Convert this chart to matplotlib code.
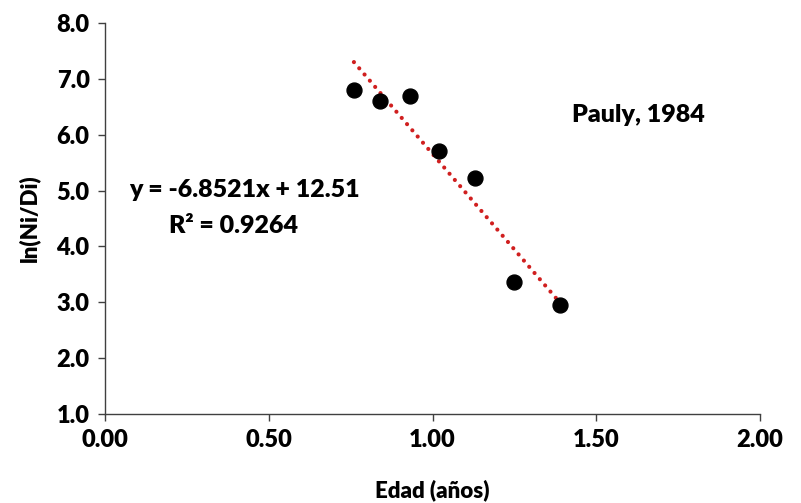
import numpy as np
import matplotlib
matplotlib.use("Agg")
import matplotlib.pyplot as plt

# data
edad = [0.76, 0.84, 0.93, 1.02, 1.13, 1.25, 1.39]
ln_ni_di = [6.80, 6.60, 6.69, 5.71, 5.22, 3.37, 2.95]
slope = -6.8521
intercept = 12.51
r2 = 0.9264

x_ticks = [0.0, 0.5, 1.0, 1.5, 2.0]
y_ticks = [1.0, 2.0, 3.0, 4.0, 5.0, 6.0, 7.0, 8.0]

plt.rcParams['font.family'] = ['Lato', 'DejaVu Sans']
fw = 'heavy'

fig = plt.figure(figsize=(8.01, 5.03), dpi=100)
ax = fig.add_axes([0.131, 0.177, 0.818, 0.777])

# trend line from first to last point
xt = np.array([min(edad), max(edad)])
ax.plot(xt, slope * xt + intercept, color='#d01f1f', lw=3, linestyle=(0, (0.01, 1.95)),
        dash_capstyle='round', zorder=2)
ax.scatter(edad, ln_ni_di, s=115, color='black', zorder=3)

ax.set_xlim(0, 2)
ax.set_ylim(1, 8)
ax.set_xticks(x_ticks)
ax.set_yticks(y_ticks)
ax.set_xticklabels([f"{v:.2f}" for v in x_ticks], fontsize=17, fontweight=fw)
ax.set_yticklabels([f"{v:.1f}" for v in y_ticks], fontsize=17, fontweight=fw)
ax.tick_params(direction='out', length=5, width=1, color='#404040', pad=6)

for side in ['top', 'right']:
    ax.spines[side].set_visible(False)
for side in ['left', 'bottom']:
    ax.spines[side].set_color('#404040')
    ax.spines[side].set_linewidth(1)

ax.set_xlabel('Edad (años)', fontsize=16, fontweight=fw, labelpad=20)
ax.set_ylabel('ln(Ni/Di)', fontsize=16, fontweight=fw, labelpad=12)

ax.text(0.427, 5.01, f"y = {slope:.4f}x + {intercept:.2f}",
        fontsize=18, fontweight=fw, ha='center', va='center')
ax.text(0.394, 4.37, f"R² = {r2:.4f}",
        fontsize=18, fontweight=fw, ha='center', va='center')
ax.text(1.63, 6.35, 'Pauly, 1984', fontsize=18, fontweight=fw,
        ha='center', va='center')

fig.savefig('out.png', dpi=100)
